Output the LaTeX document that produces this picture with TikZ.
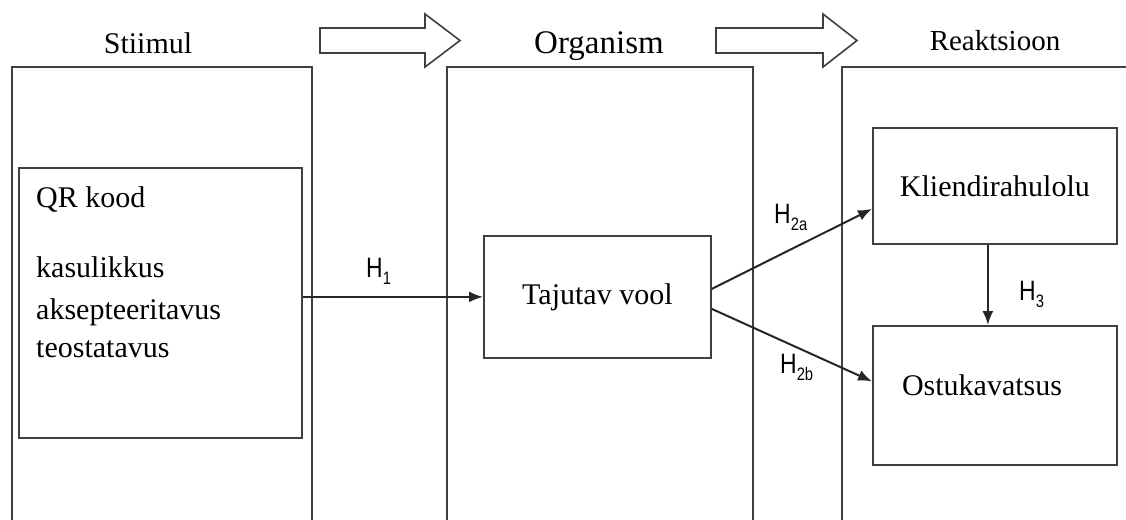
\documentclass[tikz,border=0pt]{standalone}
\usepackage{fontspec}
\setmainfont{Liberation Serif}
\newfontfamily\hfont[FakeStretch=0.82]{Liberation Sans}
\usetikzlibrary{arrows.meta}
\begin{document}
\begin{tikzpicture}[x=1pt,y=-1pt,
  ln/.style={draw=black!75, line width=1.8pt},
  box/.style={ln, rectangle, inner sep=0pt, anchor=north west},
  blockarrow/.style={draw=black!75, line width=1.6pt, fill=white, line join=miter},
  conn/.style={draw=black!85, line width=2pt, -{Latex[length=14pt,width=11pt]}},
  serif/.style={font=\fontsize{30}{36}\selectfont, inner sep=0pt},
  hlab/.style={font=\hfont\fontsize{28}{30}\selectfont, inner sep=0pt, anchor=base west}]
\fill[white] (0,0) rectangle (1126,519);
\useasboundingbox (0,0) rectangle (1126,519);
\begin{scope}
\clip (0,0) rectangle (1126,519);
% outer columns
\draw[ln] (12,540) -- (12,67) -- (312,67) -- (312,540);
\draw[ln] (447,540) -- (447,67) -- (753,67) -- (753,540);
\draw[ln] (842,540) -- (842,67) -- (1140,67);
\end{scope}
% headers
\node[serif, anchor=base] (hs) at (148,53) {Stiimul};
\node[serif, anchor=base, font=\fontsize{33}{38}\selectfont] (ho) at (599,54) {Organism};
\node[serif, anchor=base, font=\fontsize{29}{34}\selectfont] (hr) at (995,51) {Reaktsioon};
% block arrows
\draw[blockarrow] (320,28) -- (425,28) -- (425,14) -- (460,40.5) -- (425,67) -- (425,53) -- (320,53) -- cycle;
\draw[blockarrow] (716,28) -- (823,28) -- (823,14) -- (857,40.5) -- (823,67) -- (823,53) -- (716,53) -- cycle;
% inner boxes
\node[box, minimum width=283pt, minimum height=270pt] (qr) at (18,167) {};
\node[serif, anchor=base west] (qrt) at (36,207) {QR kood};
\node[serif, anchor=base west] (k1) at (36,277) {kasulikkus};
\node[serif, anchor=base west] (k2) at (36,319) {aksepteeritavus};
\node[serif, anchor=base west] (k3) at (36,357) {teostatavus};
\node[box, minimum width=227pt, minimum height=122pt, font=\fontsize{30}{36}\selectfont] (taj) at (483,235) {Tajutav vool};
\node[box, minimum width=244pt, minimum height=116pt, font=\fontsize{30}{36}\selectfont] (kl) at (872,127) {Kliendirahulolu};
\node[box, minimum width=244pt, minimum height=139pt] (ost) at (872,325) {};
\node[serif, anchor=base] (ostt) at (982,395) {Ostukavatsus};
% connectors
\draw[conn] (qr.east |- taj.west) -- (taj.west);
\draw[conn] ([yshift=8pt]taj.east) -- ([yshift=-23pt]kl.west);
\draw[conn] ([yshift=-12pt]taj.east) -- ([yshift=14pt]ost.west);
\draw[conn] ([xshift=-7pt]kl.south) -- ([xshift=-7pt]ost.north);
% labels
\node[hlab] (h1) at (366,277) {H\raisebox{-7pt}{\fontsize{18}{18}\selectfont 1}};
\node[hlab] (h2a) at (774,223) {H\raisebox{-7pt}{\fontsize{18}{18}\selectfont 2a}};
\node[hlab] (h2b) at (780,373) {H\raisebox{-7pt}{\fontsize{18}{18}\selectfont 2b}};
\node[hlab] (h3) at (1019,300) {H\raisebox{-7pt}{\fontsize{18}{18}\selectfont 3}};
\end{tikzpicture}
\end{document}
